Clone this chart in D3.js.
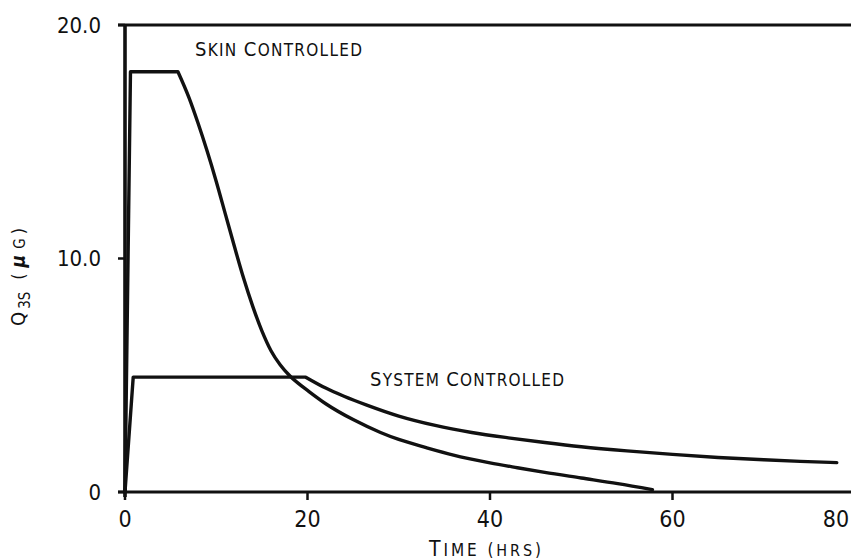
<!DOCTYPE html>
<html>
<head>
<meta charset="utf-8">
<script src="https://cdn.jsdelivr.net/npm/d3@7"></script>
<style>
  html, body { margin: 0; padding: 0; background: #fff; }
  svg { display: block; }
  text { fill: #111; }
</style>
</head>
<body>
<svg id="chart" width="851" height="560"></svg>
<script>
// Hours after exposure
const skinTime = [0, 0.6, 5.8, 7, 8, 9, 10, 11, 12, 13, 14, 15, 16, 17, 18, 19, 20, 22, 25, 28, 30, 33, 36, 40, 43, 46, 50, 54, 57.8];
// Q3S, skin controlled (µg)
const skinValue = [0, 18, 18, 16.9, 15.8, 14.6, 13.3, 11.9, 10.5, 9.15, 7.95, 6.9, 6.05, 5.45, 5.0, 4.65, 4.35, 3.78, 3.1, 2.55, 2.25, 1.9, 1.58, 1.25, 1.04, 0.84, 0.6, 0.36, 0.1];

const systemTime = [0, 0.9, 19.8, 22, 24, 26.5, 30, 34, 38, 42, 46, 50, 55, 60, 65, 70, 74, 78];
// Q3S, system controlled (µg)
const systemValue = [0, 4.92, 4.92, 4.45, 4.1, 3.72, 3.25, 2.85, 2.55, 2.32, 2.12, 1.94, 1.76, 1.61, 1.48, 1.38, 1.31, 1.26];

const xTicks = [0, 20, 40, 60, 80];
const xTickLabels = ["0", "20", "40", "60", "80"];
const yTicks = [0, 10, 20];
const yTickLabels = ["0", "10.0", "20.0"];

const svg = d3.select("#chart");
const x = d3.scaleLinear().domain([0, 80]).range([125, 855]);
const y = d3.scaleLinear().domain([0, 20]).range([492, 25]);

const ink = "#111";

// frame: top rule, left axis, bottom axis
svg.append("line").attr("x1", 118).attr("x2", 851).attr("y1", y(20)).attr("y2", y(20))
  .attr("stroke", ink).attr("stroke-width", 3);
svg.append("line").attr("x1", x(0)).attr("x2", x(0)).attr("y1", y(20) - 1).attr("y2", y(0) + 5)
  .attr("stroke", ink).attr("stroke-width", 3.6);
svg.append("line").attr("x1", 118).attr("x2", 851).attr("y1", y(0)).attr("y2", y(0))
  .attr("stroke", ink).attr("stroke-width", 3);

// y ticks
svg.selectAll(".ytick").data(yTicks).join("line")
  .attr("x1", x(0) - 7).attr("x2", x(0)).attr("y1", d => y(d)).attr("y2", d => y(d))
  .attr("stroke", ink).attr("stroke-width", 2.5);
svg.selectAll(".ylab").data(yTicks).join("text")
  .attr("x", 101).attr("y", d => y(d)).attr("dy", "0.36em")
  .attr("text-anchor", "end")
  .style("font-family", "'DejaVu Sans Condensed', 'Liberation Sans Narrow', sans-serif")
  .style("font-size", "22px")
  .text((d, i) => yTickLabels[i]);

// x ticks
svg.selectAll(".xtick").data(xTicks).join("line")
  .attr("x1", d => x(d)).attr("x2", d => x(d)).attr("y1", d => d === 0 ? y(0) - 4 : y(0)).attr("y2", y(0) + 8)
  .attr("stroke", ink).attr("stroke-width", 2.5);
// the last label is kept inside the right edge
svg.selectAll(".xlab").data(xTicks).join("text")
  .attr("x", d => Math.min(x(d), 836)).attr("y", 527)
  .attr("text-anchor", "middle")
  .style("font-family", "'Liberation Sans Narrow', 'DejaVu Sans Condensed', sans-serif")
  .style("font-size", "23px")
  .text((d, i) => xTickLabels[i]);

// curves: straight rise and plateau, smooth decay
const straight = d3.line().x(d => x(d[0])).y(d => y(d[1])).curve(d3.curveLinear);
const smooth = d3.line().x(d => x(d[0])).y(d => y(d[1])).curve(d3.curveMonotoneX);
const skin = d3.zip(skinTime, skinValue);
const system = d3.zip(systemTime, systemValue);
[skin, system].forEach(s => {
  const d = straight(s.slice(0, 3)) + smooth(s.slice(2)).replace(/^M[^CL]*/, "");
  svg.append("path").attr("d", d)
    .attr("fill", "none").attr("stroke", ink).attr("stroke-width", 3.4)
    .attr("stroke-linejoin", "round").attr("stroke-linecap", "round");
});

// small-caps text built from runs of [text, size]
const labelFont = "'DejaVu Sans Condensed', 'DejaVu Sans', sans-serif";
function capsText(parts, px, py, width, anchor) {
  const t = svg.append("text").attr("x", px).attr("y", py)
    .style("font-family", labelFont);
  parts.forEach(p => t.append("tspan").style("font-size", p[1] + "px").text(p[0]));
  const n = parts.map(p => p[0]).join("").length;
  const w = t.node().getComputedTextLength();
  const ls = (width - w) / (n - 1);
  t.style("letter-spacing", ls + "px");
  if (anchor === "middle") t.attr("x", px - width / 2);
  return t;
}

capsText([["S", 20], ["KIN ", 17], ["C", 20], ["ONTROLLED", 17]], 195, 56, 167);
capsText([["S", 20], ["YSTEM ", 17], ["C", 20], ["ONTROLLED", 17]], 370, 386, 194);
capsText([["T", 21], ["IME (", 17], ["HRS", 16], [")", 17]], 485, 556, 112, "middle");

// rotated y-axis title: Q with subscript 3S, then (µG)
const yt = svg.append("text")
  .attr("transform", "translate(25,277) rotate(-90)")
  .attr("text-anchor", "middle")
  .style("font-family", labelFont);
yt.append("tspan").style("font-size", "20px").text("Q");
yt.append("tspan").style("font-size", "15px").attr("dy", 5).attr("dx", 3).text("3S");
yt.append("tspan").style("font-size", "18px").attr("dy", -5).attr("dx", 12).text("(");
yt.append("tspan").style("font-size", "19px").style("font-style", "italic").style("font-weight", "bold").attr("dx", 6).text("μ");
yt.append("tspan").style("font-size", "15px").attr("dx", 6).text("G");
yt.append("tspan").style("font-size", "18px").attr("dx", 4).text(")");
</script>
</body>
</html>
